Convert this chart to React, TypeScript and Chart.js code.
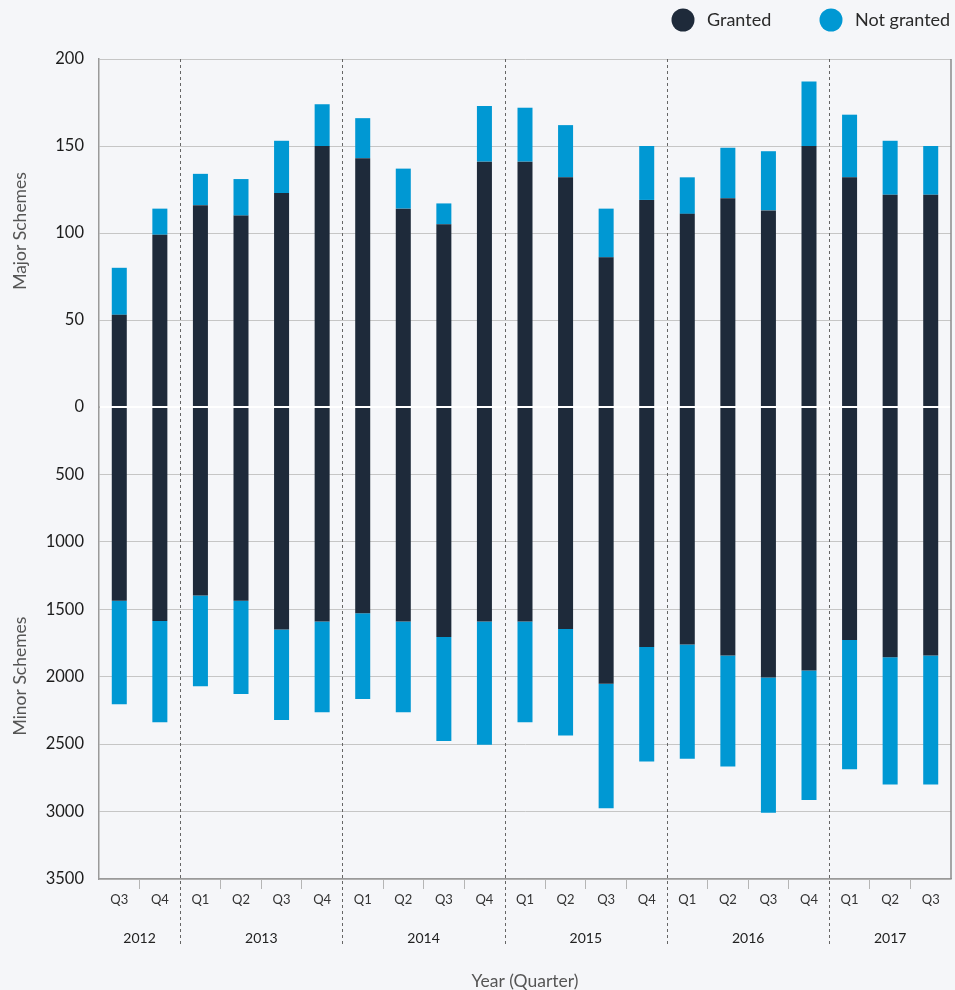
import React, { useEffect, useRef } from 'react';
import { Chart, registerables } from 'chart.js';

Chart.register(...registerables);

const quarters = ['Q3', 'Q4', 'Q1', 'Q2', 'Q3', 'Q4', 'Q1', 'Q2', 'Q3', 'Q4', 'Q1', 'Q2', 'Q3', 'Q4', 'Q1', 'Q2', 'Q3', 'Q4', 'Q1', 'Q2', 'Q3'];
const years = ['2012', '2013', '2014', '2015', '2016', '2017'];
const quartersPerYear = [2, 4, 4, 4, 4, 3];

const majorGranted = [53, 99, 116, 110, 123, 150, 143, 114, 105, 141, 141, 132, 86, 119, 111, 120, 113, 150, 132, 122, 122];
const majorNotGranted = [27, 15, 18, 21, 30, 24, 23, 23, 12, 32, 31, 30, 28, 31, 21, 29, 34, 37, 36, 31, 28];
const minorGranted = [1436, 1587, 1397, 1436, 1649, 1590, 1530, 1590, 1706, 1590, 1590, 1646, 2052, 1780, 1762, 1842, 2005, 1953, 1728, 1856, 1842];
const minorNotGranted = [769, 751, 674, 692, 672, 674, 635, 674, 771, 914, 748, 789, 924, 848, 846, 823, 1003, 961, 959, 944, 958];

const majorMax = 200;
const majorStep = 50;
const minorMax = 3500;
const minorStep = 500;

const seriesLabels = ['Granted', 'Not granted'];
const seriesColors = ['#1e2a3a', '#0098d3'];
const axisTitles = ['Major Schemes', 'Minor Schemes'];
const xTitle = 'Year (Quarter)';

const FONT = 'Lato, "Noto Sans", sans-serif';

const boundaries: number[] = [0];
quartersPerYear.forEach((n) => boundaries.push(boundaries[boundaries.length - 1] + n));

const decorPlugin = {
  id: 'decor',
  afterDatasetsDraw(chart: any) {
    const { ctx, chartArea } = chart;
    const yMajor = chart.scales.yMajor;
    const y0 = yMajor.getPixelForValue(0);
    ctx.save();
    ctx.strokeStyle = '#ffffff';
    ctx.lineWidth = 2;
    ctx.beginPath();
    ctx.moveTo(chartArea.left + 1, y0);
    ctx.lineTo(chartArea.right, y0);
    ctx.stroke();
    ctx.restore();
  },
  afterDraw(chart: any) {
    const { ctx, chartArea } = chart;
    const x = chart.scales.x;
    const half = (x.getPixelForValue(1) - x.getPixelForValue(0)) / 2;
    ctx.save();
    ctx.strokeStyle = '#8a8a8a';
    ctx.lineWidth = 1.5;
    ctx.beginPath();
    ctx.moveTo(chartArea.right, chartArea.top);
    ctx.lineTo(chartArea.right, chartArea.bottom);
    ctx.stroke();

    ctx.strokeStyle = '#666';
    ctx.lineWidth = 1;
    ctx.setLineDash([3, 3]);
    for (let i = 1; i < boundaries.length - 1; i++) {
      const px = Math.round(x.getPixelForValue(boundaries[i]) - half) + 0.5;
      ctx.beginPath();
      ctx.moveTo(px, chartArea.top);
      ctx.lineTo(px, chartArea.bottom + 66);
      ctx.stroke();
    }
    ctx.setLineDash([]);

    ctx.fillStyle = '#222';
    ctx.font = `14px ${FONT}`;
    ctx.textAlign = 'center';
    ctx.textBaseline = 'middle';
    years.forEach((yr, i) => {
      const a = x.getPixelForValue(boundaries[i]) - half;
      const b = x.getPixelForValue(boundaries[i + 1] - 1) + half;
      ctx.fillText(yr, (a + b) / 2, chartArea.bottom + 59);
    });

    ctx.fillStyle = '#555';
    ctx.font = `17.5px ${FONT}`;
    ctx.fillText(xTitle, (chartArea.left + chartArea.right) / 2, 981);

    const yMajor = chart.scales.yMajor;
    const yMinor = chart.scales.yMinor;
    ctx.save();
    ctx.font = `17.5px ${FONT}`;
    ctx.fillStyle = '#555';
    ctx.translate(20, (yMajor.top + yMajor.bottom) / 2 - 2);
    ctx.rotate(-Math.PI / 2);
    ctx.fillText(axisTitles[0], 0, 0);
    ctx.restore();
    ctx.save();
    ctx.font = `17.5px ${FONT}`;
    ctx.fillStyle = '#555';
    ctx.textAlign = 'center';
    ctx.textBaseline = 'middle';
    ctx.translate(20, yMinor.top + (yMinor.bottom - yMinor.top) * 0.57);
    ctx.rotate(-Math.PI / 2);
    ctx.fillText(axisTitles[1], 0, 0);
    ctx.restore();

    const legendX = [683, 831];
    ctx.font = `18px ${FONT}`;
    ctx.textAlign = 'left';
    ctx.textBaseline = 'middle';
    seriesLabels.forEach((lab, i) => {
      ctx.fillStyle = seriesColors[i];
      ctx.beginPath();
      ctx.arc(legendX[i], 20, 11.5, 0, Math.PI * 2);
      ctx.fill();
      ctx.fillStyle = '#2a2a2a';
      ctx.fillText(lab, legendX[i] + 24, 20);
    });
    ctx.restore();
  },
};

export default function App() {
  const ref = useRef<HTMLCanvasElement>(null);
  useEffect(() => {
    document.body.style.margin = '0';
    document.body.style.background = '#f5f6f9';
    Chart.defaults.font.family = FONT;
    const common = { stack: 'all', barPercentage: 0.37, categoryPercentage: 1, borderWidth: 0 };
    const chart = new Chart(ref.current!, {
      type: 'bar',
      data: {
        labels: quarters,
        datasets: [
          { ...common, label: seriesLabels[0], data: majorGranted, backgroundColor: seriesColors[0], yAxisID: 'yMajor' },
          { ...common, label: seriesLabels[1], data: majorNotGranted, backgroundColor: seriesColors[1], yAxisID: 'yMajor' },
          { ...common, label: seriesLabels[0], data: minorGranted, backgroundColor: seriesColors[0], yAxisID: 'yMinor' },
          { ...common, label: seriesLabels[1], data: minorNotGranted, backgroundColor: seriesColors[1], yAxisID: 'yMinor' },
        ] as any,
      },
      options: {
        animation: false,
        responsive: false,
        maintainAspectRatio: false,
        layout: { padding: { top: 59, right: 4, left: 0, bottom: 0 } },
        plugins: { legend: { display: false }, tooltip: { enabled: false } },
        scales: {
          x: {
            stacked: true,
            offset: true,
            grid: {
              offset: true,
              drawOnChartArea: false,
              tickLength: 10,
              color: (c: any) => (c.index === undefined || boundaries.includes(c.index) ? 'rgba(0,0,0,0)' : '#b5b5b5'),
            },
            border: { display: true, color: '#9a9a9a', width: 1.5 },
            ticks: { color: '#333', font: { size: 13 }, padding: 3, maxRotation: 0, autoSkip: false },
            afterFit: (s: any) => { s.height = 990 - 879; },
          },
          yMinor: {
            type: 'linear',
            position: 'left',
            stack: 'y',
            stackWeight: 472,
            stacked: true,
            reverse: true,
            min: 0,
            max: minorMax,
            ticks: {
              stepSize: minorStep,
              color: '#1c1c1c',
              font: { size: 16.5 },
              padding: 15,
              callback: (v: any) => (v === 0 ? '' : String(v)),
            },
            grid: { color: '#c6c6c6', drawTicks: false, lineWidth: 1 },
            border: { display: true, color: '#9a9a9a', width: 1.5 },
            afterFit: (s: any) => { s.width = 99; },
          },
          yMajor: {
            type: 'linear',
            position: 'left',
            stack: 'y',
            stackWeight: 348,
            stacked: true,
            min: 0,
            max: majorMax,
            ticks: { stepSize: majorStep, color: '#1c1c1c', font: { size: 16.5 }, padding: 15 },
            grid: { color: '#c6c6c6', drawTicks: false, lineWidth: 1 },
            border: { display: true, color: '#9a9a9a', width: 1.5 },
            afterFit: (s: any) => { s.width = 99; },
          },
        } as any,
      },
      plugins: [decorPlugin],
    });
    return () => chart.destroy();
  }, []);
  return (
    <div style={{ width: 955, height: 990, background: '#f5f6f9' }}>
      <canvas ref={ref} width={955} height={990} style={{ display: 'block' }} />
    </div>
  );
}
